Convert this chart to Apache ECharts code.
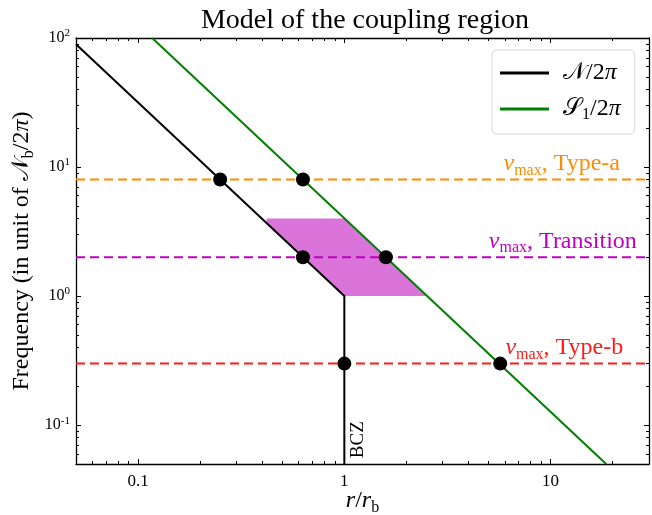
<!DOCTYPE html>
<html><head><meta charset="utf-8">
<script src="https://cdn.jsdelivr.net/npm/echarts@6/dist/echarts.min.js"></script>
<style>html,body{margin:0;padding:0;background:#fff}#c{width:652px;height:515px}</style>
</head><body><div id="c"></div>
<script>
// ---- data ----
const xRange = [0.05, 30];
const yRange = [0.05, 100];
const xMajorTicks = [0.1, 1, 10];
const xTickLabels = ['0.1', '1', '10'];
const xMinorTicks = [0.06,0.07,0.08,0.09,0.2,0.3,0.4,0.5,0.6,0.7,0.8,0.9,2,3,4,5,6,7,8,9,20];
const yMajorTicks = [0.1, 1, 10, 100];
const yTickExponents = ['-1', '0', '1', '2'];
const yMinorTicks = [0.06,0.07,0.08,0.09,0.2,0.3,0.4,0.5,0.6,0.7,0.8,0.9,2,3,4,5,6,7,8,9,20,30,40,50,60,70,80,90];

const nCurveR = [0.05, 1, 1];
const nCurveF = [89.4, 1, 0.05];
const s1CurveR = [0.117, 18.6];
const s1CurveF = [100, 0.05];

const nuMaxLevels = [8, 2, 0.3];
const nuMaxNames = ['Type-a', 'Transition', 'Type-b'];
const nuLabelR = [21.7, 26.2, 22.5];

const regionR = [0.42, 1, 2.52, 1, 0.418];
const regionF = [4, 4, 1, 1, 3.7];

const dotR = [0.25, 0.63, 0.63, 1.59, 1, 5.7];
const dotF = [8, 8, 2, 2, 0.3, 0.3];

const bczR = 1, bczF = 0.0555, bczText = 'BCZ';

// ---- styles ----
const SERIF = "'Liberation Serif','DejaVu Serif','Noto Sans CJK SC',serif";
const nuColors = ['#ff8c00', '#bf00bf', '#ff1a1a'];

function nearestIdx(v, arr) {
  let best = 0, bd = Infinity;
  arr.forEach((t, i) => { const d = Math.abs(Math.log10(v) - Math.log10(t)); if (d < bd) { bd = d; best = i; } });
  return best;
}

function logAxis(base, extra) {
  return Object.assign({
    type: 'log', logBase: 10, min: base[0], max: base[1],
    splitLine: { show: false },
    axisLine: { show: false, onZero: false },
    axisLabel: { show: false },
    axisTick: { show: false }
  }, extra);
}
const frameLine = { show: true, onZero: false, lineStyle: { color: '#000', width: 1.3 } };

const subRich = { fontSize: 16, fontFamily: SERIF, lineHeight: 30, verticalAlign: 'bottom' };

const xAxes = [
  logAxis(xRange, {
    position: 'bottom', axisLine: frameLine,
    axisTick: { show: true, inside: true, length: 5, customValues: xMajorTicks, lineStyle: { color: '#000', width: 1 } },
    axisLabel: { show: true, customValues: xMajorTicks, margin: 9, fontSize: 17, fontFamily: SERIF, color: '#000',
      formatter: v => xTickLabels[nearestIdx(v, xMajorTicks)] },
    name: '{i|r}/{i|r}{s|b}', nameLocation: 'middle', nameGap: 22, nameMoveOverlap: false,
    nameTextStyle: { fontSize: 24, fontFamily: SERIF, color: '#000',
      rich: { i: { fontSize: 24, fontFamily: SERIF, fontStyle: 'italic', lineHeight: 30 }, s: subRich } }
  }),
  logAxis(xRange, { position: 'bottom', axisTick: { show: true, inside: true, length: 3, customValues: xMinorTicks, lineStyle: { color: '#000', width: 1 } } }),
  logAxis(xRange, { position: 'top', axisLine: frameLine,
    axisTick: { show: true, inside: true, length: 5, customValues: xMajorTicks, lineStyle: { color: '#000', width: 1 } } }),
  logAxis(xRange, { position: 'top', axisTick: { show: true, inside: true, length: 3, customValues: xMinorTicks, lineStyle: { color: '#000', width: 1 } } })
];

const yAxes = [
  logAxis(yRange, {
    position: 'left', axisLine: frameLine,
    axisTick: { show: true, inside: true, length: 5, customValues: yMajorTicks, lineStyle: { color: '#000', width: 1 } },
    axisLabel: { show: true, customValues: yMajorTicks, margin: 6, color: '#000',
      formatter: v => '{b|10}{s|' + yTickExponents[nearestIdx(v, yMajorTicks)] + '}',
      rich: { b: { fontSize: 16, fontFamily: SERIF, lineHeight: 20 }, s: { fontSize: 11, fontFamily: SERIF, lineHeight: 20, verticalAlign: 'top' } } },
    name: 'Frequency (in unit of {m|𝒩}{s|b}/2{p|π})', nameLocation: 'middle', nameGap: 39, nameMoveOverlap: false,
    nameTextStyle: { fontSize: 24, fontFamily: SERIF, color: '#000',
      rich: { m: { fontSize: 24, fontFamily: SERIF, lineHeight: 30 }, p: { fontSize: 24, fontFamily: SERIF, fontStyle: 'italic', lineHeight: 30 }, s: subRich } }
  }),
  logAxis(yRange, { position: 'left', axisTick: { show: true, inside: true, length: 3, customValues: yMinorTicks, lineStyle: { color: '#000', width: 1 } } }),
  logAxis(yRange, { position: 'right', axisLine: frameLine,
    axisTick: { show: true, inside: true, length: 5, customValues: yMajorTicks, lineStyle: { color: '#000', width: 1 } } }),
  logAxis(yRange, { position: 'right', axisTick: { show: true, inside: true, length: 3, customValues: yMinorTicks, lineStyle: { color: '#000', width: 1 } } })
];

const series = [];
// shaded coupling region
series.push({
  type: 'custom', name: 'region', coordinateSystem: 'cartesian2d', z: 1, silent: true,
  data: regionR.map((r, i) => [r, regionF[i]]),
  renderItem: (params, api) => {
    if (params.dataIndex !== 0) return null;
    const pts = regionR.map((r, i) => api.coord([r, regionF[i]]));
    return { type: 'polygon', shape: { points: pts }, style: { fill: '#da74da' } };
  }
});
// nu_max dashed lines
nuMaxLevels.forEach((lv, i) => {
  series.push({
    type: 'line', name: 'nu' + i, z: 2, symbol: 'none', silent: true,
    data: [[xRange[0], lv], [xRange[1], lv]],
    lineStyle: { color: nuColors[i], width: 2, type: [9, 5] }
  });
});
series.push({
  type: 'line', name: 'N', z: 3, symbol: 'none', color: '#000',
  data: nCurveR.map((r, i) => [r, nCurveF[i]]),
  lineStyle: { color: '#000', width: 2 }
});
series.push({
  type: 'line', name: 'S1', z: 3, symbol: 'none', color: '#008000',
  data: s1CurveR.map((r, i) => [r, s1CurveF[i]]),
  lineStyle: { color: '#008000', width: 2 }
});
series.push({
  type: 'scatter', name: 'dots', z: 5, symbolSize: 14, itemStyle: { color: '#000', opacity: 1 },
  data: dotR.map((r, i) => [r, dotF[i]])
});
// text annotations
const nuRich = (c) => ({
  n: { fontSize: 24, fontFamily: SERIF, fontStyle: 'italic', fill: c, lineHeight: 30 },
  s: { fontSize: 16, fontFamily: SERIF, fill: c, lineHeight: 30, verticalAlign: 'bottom' },
  t: { fontSize: 24, fontFamily: SERIF, fill: c, lineHeight: 30 }
});
series.push({
  type: 'custom', name: 'labels', coordinateSystem: 'cartesian2d', z: 6, silent: true,
  data: nuLabelR.map((r, i) => [r, nuMaxLevels[i], i]).concat([[bczR, bczF, -1]]),
  renderItem: (params, api) => {
    const idx = api.value(2);
    const p = api.coord([api.value(0), api.value(1)]);
    if (idx < 0) {
      return { type: 'text', x: p[0] + 4, y: p[1], rotation: Math.PI / 2,
        style: { text: bczText, fontSize: 19, fontFamily: SERIF, fill: '#000', align: 'left', verticalAlign: 'top' } };
    }
    return { type: 'text', x: p[0], y: p[1] - 1,
      style: { text: '{n|ν}{s|max}{t|, ' + nuMaxNames[idx] + '}', rich: nuRich(nuColors[idx]),
        fill: nuColors[idx], align: 'right', verticalAlign: 'bottom' } };
  }
});

const legendNames = { 'N': '{m|𝒩}{t|/2}{p|π}', 'S1': '{m|𝒮}{s|1}{t|/2}{p|π}' };

const chart = echarts.init(document.getElementById('c'), null, { renderer: 'canvas' });
chart.setOption({
  animation: false,
  backgroundColor: '#fff',
  title: { text: 'Model of the coupling region', left: 360, textAlign: 'center', top: 2,
    textStyle: { fontSize: 28, fontWeight: 'normal', fontFamily: SERIF, color: '#000' } },
  grid: { left: 76, top: 38, right: 3, bottom: 51, containLabel: false, outerBoundsMode: 'none' },
  legend: {
    data: ['N', 'S1'], orient: 'vertical', left: 492, top: 50,
    padding: [11, 14, 11, 8], itemWidth: 49, itemHeight: 3, itemGap: 12, icon: 'rect',
    backgroundColor: '#fff', borderColor: '#d6d6d6', borderWidth: 1, borderRadius: 5,
    formatter: n => legendNames[n],
    textStyle: { fontSize: 24, fontFamily: SERIF, color: '#000', padding: [0, 0, 0, 9],
      rich: {
        m: { fontSize: 24, fontFamily: SERIF, lineHeight: 28 },
        t: { fontSize: 24, fontFamily: SERIF, lineHeight: 28 },
        p: { fontSize: 24, fontFamily: SERIF, fontStyle: 'italic', lineHeight: 28 },
        s: { fontSize: 16, fontFamily: SERIF, lineHeight: 28, verticalAlign: 'bottom' }
      } }
  },
  xAxis: xAxes,
  yAxis: yAxes,
  series: series
});
</script></body></html>
